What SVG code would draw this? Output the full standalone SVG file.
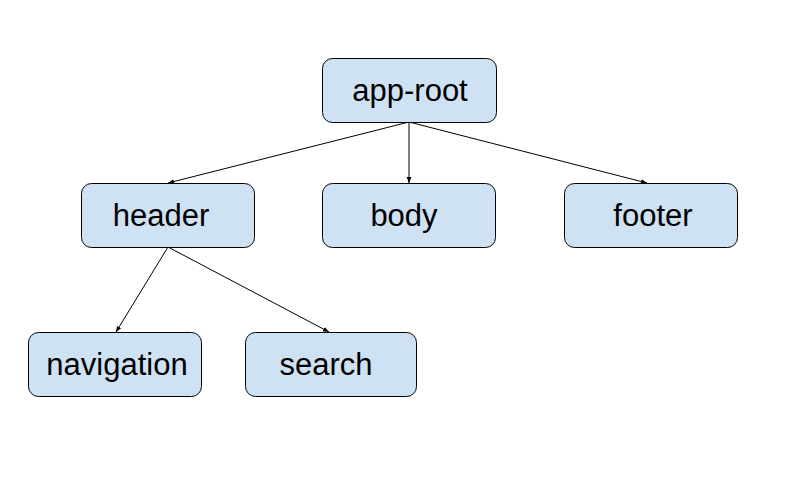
<svg xmlns="http://www.w3.org/2000/svg" width="800" height="500" viewBox="0 0 800 500">
<style>
.box{fill:#cfe2f3;stroke:#000;stroke-width:1}
.lbl{font-family:"Liberation Sans",Arial,sans-serif;font-size:31px;fill:#000;text-anchor:middle}
.edge{stroke:#000;stroke-width:1;fill:none;marker-end:url(#ah)}
</style>
<defs>
<marker id="ah" viewBox="0 0 10 10" refX="10" refY="5" markerWidth="6" markerHeight="6" markerUnits="userSpaceOnUse" orient="auto">
<path d="M0,1 L10,5 L0,9 z" fill="#000"/>
</marker>
</defs>
<rect width="800" height="500" fill="#fff"/>
<g id="connectors">
<line class="edge" x1="409" y1="122" x2="168" y2="183"/>
<line class="edge" x1="409" y1="122" x2="409" y2="183"/>
<line class="edge" x1="409" y1="122" x2="647" y2="183"/>
<line class="edge" x1="168" y1="247" x2="116" y2="332"/>
<line class="edge" x1="168" y1="247" x2="329" y2="332"/>
</g>
<g id="app-root"><rect class="box" x="322.5" y="58.5" width="174" height="64" rx="10"/><text class="lbl" x="410" y="101">app-root</text></g>
<g id="header"><rect class="box" x="81.5" y="183.5" width="173" height="64" rx="10"/><text class="lbl" x="161" y="226">header</text></g>
<g id="body"><rect class="box" x="322.5" y="183.5" width="173" height="64" rx="10"/><text class="lbl" x="404" y="226">body</text></g>
<g id="footer"><rect class="box" x="564.5" y="183.5" width="173" height="64" rx="10"/><text class="lbl" x="653" y="226">footer</text></g>
<g id="navigation"><rect class="box" x="28.5" y="332.5" width="173" height="64" rx="10"/><text class="lbl" x="117" y="375">navigation</text></g>
<g id="search"><rect class="box" x="245.5" y="332.5" width="171" height="64" rx="10"/><text class="lbl" x="326" y="375">search</text></g>
</svg>
